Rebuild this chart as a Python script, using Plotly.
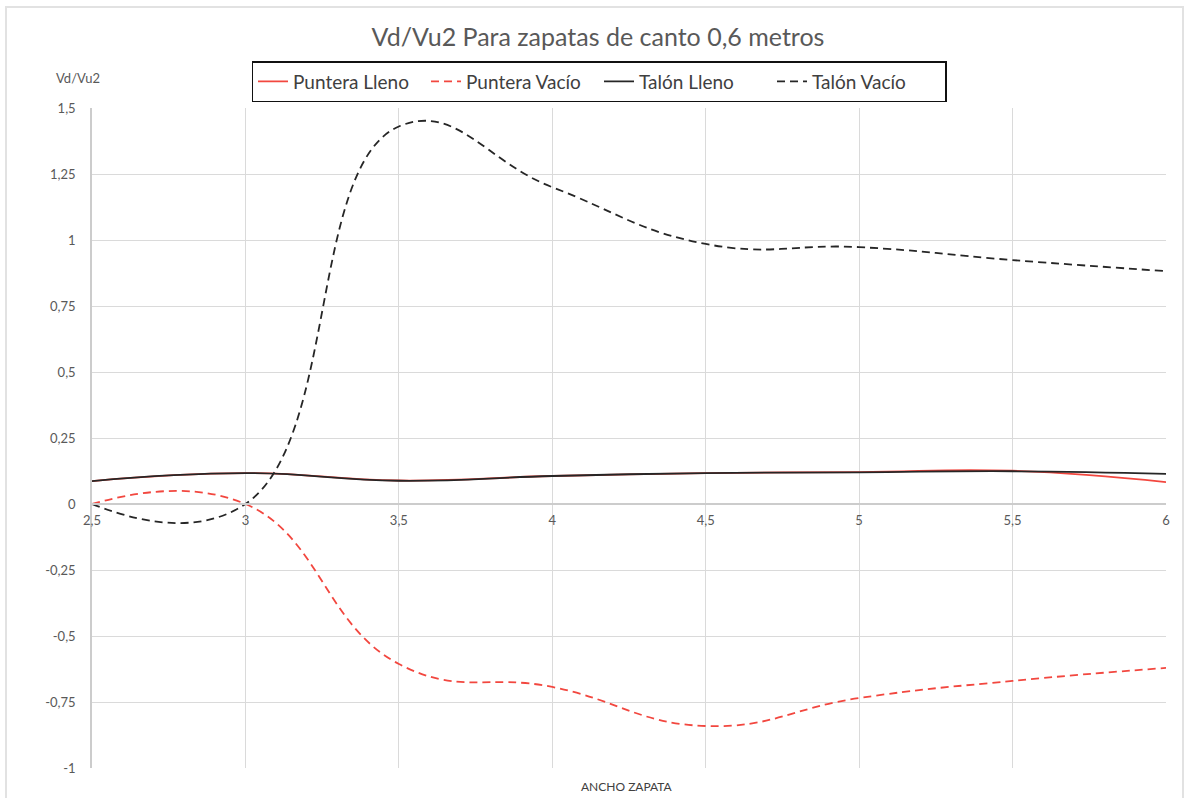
import plotly.graph_objects as go

# Ancho de zapata (m)
ancho = [2.5, 3.0, 3.5, 4.0, 4.5, 5.0, 5.5, 6.0]

# Relación Vd/Vu2 por caso
puntera_lleno = [0.087, 0.117, 0.089, 0.106, 0.117, 0.121, 0.126, 0.083]
puntera_vacio = [0.0, 0.0, -0.606, -0.693, -0.841, -0.735, -0.670, -0.621]
talon_lleno = [0.087, 0.117, 0.088, 0.106, 0.117, 0.120, 0.124, 0.114]
talon_vacio = [0.0, 0.0, 1.43, 1.20, 0.985, 0.973, 0.924, 0.882]

x_tickvals = [2.5, 3, 3.5, 4, 4.5, 5, 5.5, 6]
x_ticktext = ["2,5", "3", "3,5", "4", "4,5", "5", "5,5", "6"]
y_tickvals = [-1, -0.75, -0.5, -0.25, 0, 0.25, 0.5, 0.75, 1, 1.25, 1.5]
y_ticktext = ["-1", "-0,75", "-0,5", "-0,25", "0", "0,25", "0,5", "0,75", "1", "1,25", "1,5"]

FONT = "Lato, 'Open Sans', sans-serif"
RED = "#f2473f"
DARK = "#262626"
DASH = "8px,5px"

series = [
    ("Puntera Lleno", puntera_lleno, RED, "solid"),
    ("Puntera Vacío", puntera_vacio, RED, DASH),
    ("Talón Lleno", talon_lleno, DARK, "solid"),
    ("Talón Vacío", talon_vacio, DARK, DASH),
]

fig = go.Figure()
for name, vals, color, dash in series:
    fig.add_trace(go.Scatter(
        x=ancho, y=vals, name=name, mode="lines",
        line=dict(color=color, width=1.8, dash=dash, shape="spline", smoothing=1.3),
    ))

W, H = 1185, 798
L, R, T, B = 92, 19, 108, 30
pw, ph = W - L - R, H - T - B
ymin, ymax = -1, 1.5
zero_pos = (0 - ymin) / (ymax - ymin)

fig.update_layout(
    width=W, height=H,
    margin=dict(l=L, r=R, t=T, b=B),
    paper_bgcolor="white", plot_bgcolor="white",
    font=dict(family=FONT, color="#595959"),
    title=dict(
        text="Vd/Vu2 Para zapatas de canto 0,6 metros",
        x=(598 - L) / pw, xref="paper", xanchor="center",
        y=1 - 37 / H, yref="container", yanchor="middle",
        font=dict(size=25, color="#595959", family=FONT),
    ),
    legend=dict(
        orientation="h",
        x=(599 - L) / pw, xanchor="center",
        y=1 + (T - 61) / ph, yanchor="top",
        bordercolor="#111111", borderwidth=1.5,
        font=dict(size=19, color="#404040", family=FONT),
        entrywidth=128, entrywidthmode="pixels",
        tracegroupgap=0,
    ),
    xaxis=dict(
        range=[2.5, 6], tickvals=x_tickvals, ticktext=x_ticktext,
        anchor="free", position=zero_pos,
        showgrid=True, gridcolor="#dadada", gridwidth=1,
        showline=True, linecolor="#cccccc", linewidth=1.5,
        ticks="", ticklabelstandoff=5,
        tickfont=dict(size=13, color="#595959", family=FONT),
        zeroline=False, fixedrange=True,
    ),
    yaxis=dict(
        range=[ymin, ymax], tickvals=y_tickvals, ticktext=y_ticktext,
        showgrid=True, gridcolor="#dadada", gridwidth=1,
        showline=True, linecolor="#cccccc", linewidth=1.5,
        ticks="", ticklabelstandoff=12,
        tickfont=dict(size=13, color="#595959", family=FONT),
        zeroline=False, fixedrange=True,
    ),
)

# Ejes: rótulos
fig.add_annotation(
    text="Vd/Vu2", xref="paper", yref="paper",
    x=(78 - L) / pw, y=1 + (T - 78) / ph,
    xanchor="center", yanchor="middle", showarrow=False,
    font=dict(size=13, color="#595959", family=FONT),
)
fig.add_annotation(
    text="ANCHO ZAPATA", xref="paper", yref="paper",
    x=(627 - L) / pw, y=-(786 - (H - B)) / ph,
    xanchor="center", yanchor="middle", showarrow=False,
    font=dict(size=12, color="#404040", family=FONT),
)

# Marco exterior del gráfico
fig.add_shape(
    type="rect", xref="paper", yref="paper",
    x0=(6 - L) / pw, x1=(1183 - L) / pw,
    y0=-(H + 20 - (H - B)) / ph, y1=1 + (T - 7) / ph,
    line=dict(color="#e2e2e2", width=2), fillcolor="rgba(0,0,0,0)", layer="below",
)

fig.write_html("out.html")
